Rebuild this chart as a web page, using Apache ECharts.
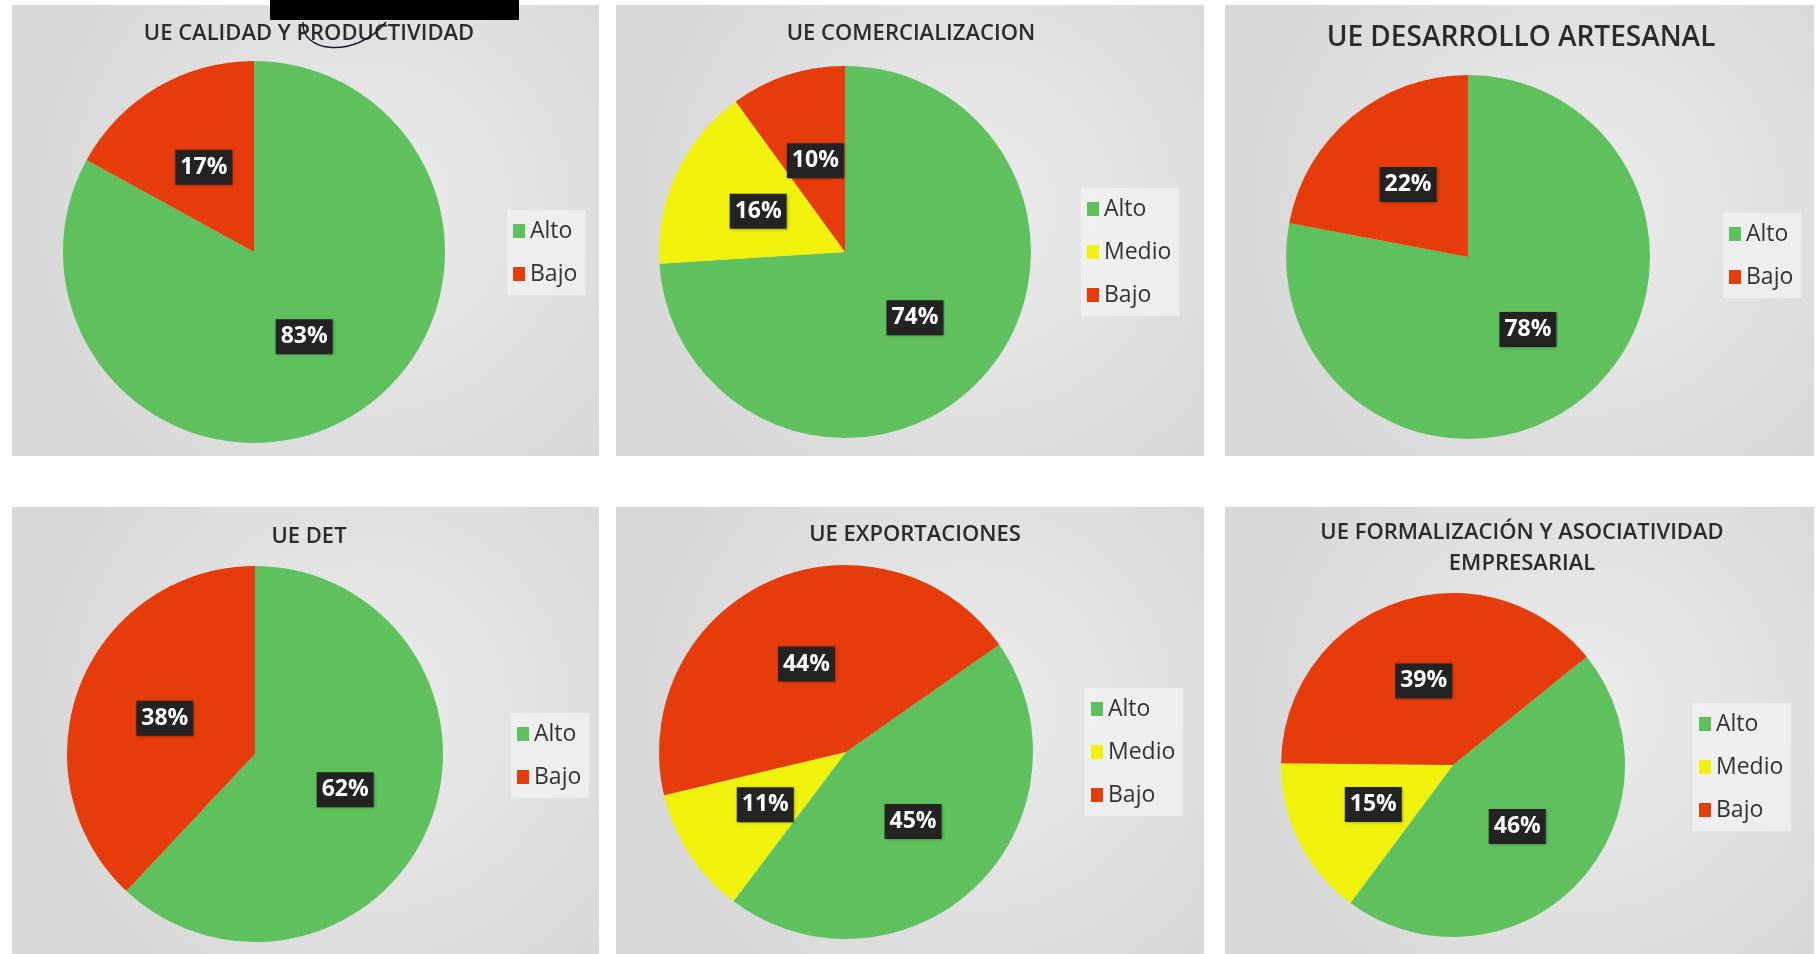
<!DOCTYPE html>
<html>
<head>
<meta charset="utf-8">
<script src="https://cdn.jsdelivr.net/npm/echarts@6/dist/echarts.min.js"></script>
<style>
html,body{margin:0;padding:0;background:#ffffff;}
#chart{width:1820px;height:954px;}
</style>
</head>
<body>
<div id="chart"></div>
<script>
// ---- data ----
const titles = [
  "UE CALIDAD Y PRODUCTIVIDAD",
  "UE COMERCIALIZACION",
  "UE DESARROLLO ARTESANAL",
  "UE DET",
  "UE EXPORTACIONES",
  "UE FORMALIZACIÓN Y ASOCIATIVIDAD\nEMPRESARIAL"
];
const catsTwo = ["Alto", "Bajo"];
const catsThree = ["Alto", "Medio", "Bajo"];
const calidad = [83, 17];
const comercializacion = [74, 16, 10];
const artesanal = [78, 22];
const det = [62, 38];
const exportaciones = [45, 11, 44];
const formalizacion = [46, 15, 39];

// ---- layout / style ----
const colorMap = { Alto: "#5ec15e", Medio: "#f0f20c", Bajo: "#e63b0b" };
const panels = [
  { x: 12, y: 5, w: 587, h: 451 },
  { x: 616, y: 5, w: 588, h: 451 },
  { x: 1225, y: 5, w: 589, h: 451 },
  { x: 12, y: 507, w: 587, h: 447 },
  { x: 616, y: 507, w: 588, h: 447 },
  { x: 1225, y: 507, w: 589, h: 447 }
];
const pies = [
  { cats: catsTwo, vals: calidad, c: [254, 252], r: 191, start: 90 },
  { cats: catsThree, vals: comercializacion, c: [845, 252], r: 186, start: 90 },
  { cats: catsTwo, vals: artesanal, c: [1468, 257], r: 182, start: 90 },
  { cats: catsTwo, vals: det, c: [255, 754], r: 188, start: 90 },
  { cats: catsThree, vals: exportaciones, c: [846, 752], r: 187, start: 35 },
  { cats: catsThree, vals: formalizacion, c: [1453, 765], r: 172, start: 39 }
];
const titlePos = [
  { x: 304, y: 14, fs: 22, lh: 30 },
  { x: 906, y: 14, fs: 22, lh: 30 },
  { x: 1516, y: 16, fs: 28, lh: 34 },
  { x: 304, y: 517, fs: 22, lh: 30 },
  { x: 910, y: 515, fs: 22, lh: 30 },
  { x: 1517, y: 512, fs: 22, lh: 31 }
];
const legendPos = [
  { left: 507, top: 210 },
  { left: 1081, top: 188 },
  { left: 1723, top: 213 },
  { left: 511, top: 713 },
  { left: 1085, top: 688 },
  { left: 1693, top: 703 }
];

const chart = echarts.init(document.getElementById("chart"), null, { renderer: "canvas" });

const graphics = panels.map(p => ({
  type: "rect",
  shape: { x: p.x, y: p.y, width: p.w, height: p.h },
  style: {
    fill: {
      type: "radial", x: 0.6, y: 0.45, r: 0.75,
      colorStops: [{ offset: 0, color: "#ececec" }, { offset: 1, color: "#d8d8d8" }]
    }
  },
  z: -10
}));
graphics.push({
  type: "rect",
  shape: { x: 270, y: 0, width: 249, height: 20 },
  style: { fill: "#000000" },
  z: 100
});
graphics.push({
  type: "bezierCurve",
  shape: { x1: 303, y1: 22, cpx1: 300, cpy1: 52, cpx2: 355, cpy2: 60, x2: 386, y2: 22 },
  style: { fill: null, stroke: "#1a1a2a", lineWidth: 1.5 },
  z: 100
});

const option = {
  backgroundColor: "#ffffff",
  animation: false,
  graphic: graphics,
  title: titles.map((t, i) => ({
    text: t,
    left: titlePos[i].x,
    top: titlePos[i].y,
    textAlign: "center",
    textStyle: {
      fontFamily: "Open Sans",
      fontWeight: 600,
      fontSize: titlePos[i].fs,
      color: "#2b2b2b",
      lineHeight: titlePos[i].lh
    }
  })),
  legend: pies.map((p, i) => ({
    data: p.cats,
    orient: "vertical",
    left: legendPos[i].left,
    top: legendPos[i].top,
    icon: "rect",
    itemWidth: 12,
    itemHeight: 14,
    itemGap: 17,
    padding: [8, 8, 8, 6],
    backgroundColor: "rgba(246,246,246,0.6)",
    selectedMode: false,
    textStyle: { fontFamily: "Open Sans", fontSize: 23, color: "#333333", lineHeight: 26 }
  })),
  series: pies.map((p, i) => ({
    type: "pie",
    center: p.c,
    radius: p.r,
    startAngle: p.start,
    clockwise: true,
    avoidLabelOverlap: false,
    silent: true,
    data: p.cats.map((name, k) => ({
      name: name,
      value: p.vals[k],
      itemStyle: { color: colorMap[name] }
    })),
    label: {
      show: true,
      position: "inside",
      formatter: "{c}%",
      fontFamily: "Open Sans",
      fontWeight: "bold",
      fontSize: 23,
      color: "#ffffff",
      backgroundColor: "#232323",
      padding: [7, 5, 5, 5],
      shadowColor: "rgba(0,0,0,0.35)",
      shadowBlur: 3,
      shadowOffsetX: 1,
      shadowOffsetY: 1
    },
    labelLine: { show: false },
    itemStyle: { borderWidth: 0 }
  }))
};
chart.setOption(option);
</script>
</body>
</html>
